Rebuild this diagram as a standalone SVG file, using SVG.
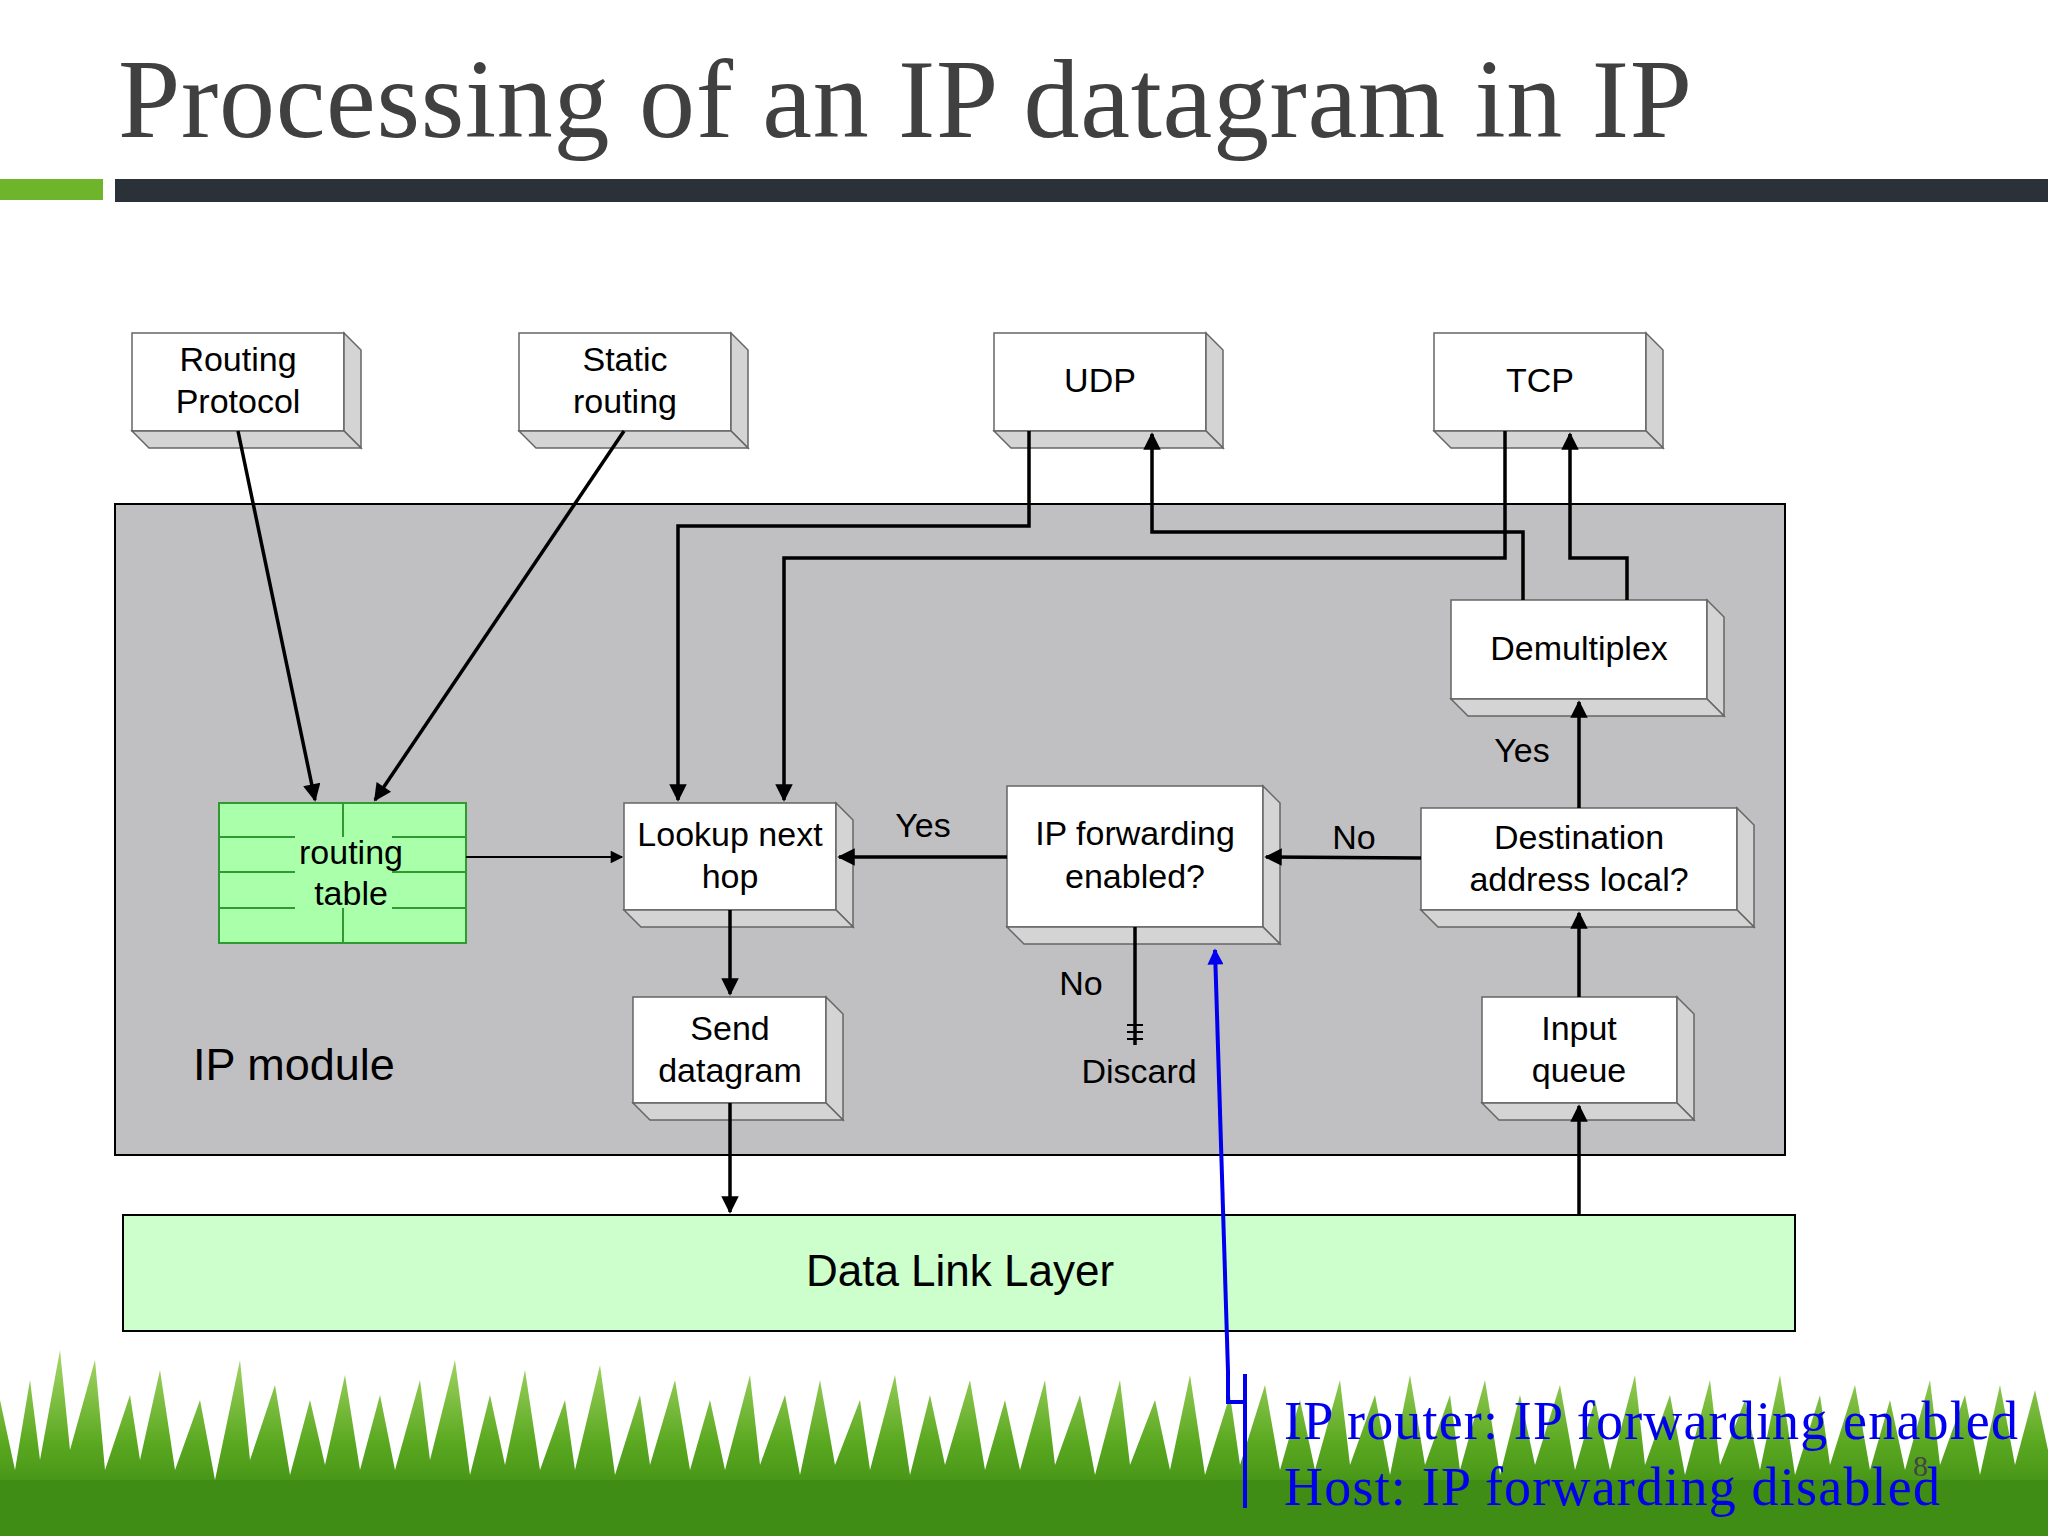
<svg xmlns="http://www.w3.org/2000/svg" width="2048" height="1536" viewBox="0 0 2048 1536">
<defs>
<style>
.f{fill:#fff;stroke:#666;stroke-width:1.5}
.s{fill:#d4d4d4;stroke:#666;stroke-width:1.5}
.t{font-family:"Liberation Sans",Arial,sans-serif;font-size:34px;fill:#000;text-anchor:middle}
.c{fill:none;stroke:#000;stroke-width:3.5}
.ct{fill:none;stroke:#000;stroke-width:1.8}
.rt{stroke:#2f9a2f;stroke-width:2}
</style>
<marker id="a" viewBox="0 0 10 10" refX="9" refY="5" markerWidth="6" markerHeight="5" orient="auto" markerUnits="strokeWidth"><path d="M0,0L10,5L0,10z" fill="#000"/></marker>
<marker id="at" viewBox="0 0 10 10" refX="9" refY="5" markerWidth="9" markerHeight="7" orient="auto" markerUnits="strokeWidth"><path d="M0,0L10,5L0,10z" fill="#000"/></marker>
<marker id="ab" viewBox="0 0 10 10" refX="9" refY="5" markerWidth="5" markerHeight="4" orient="auto" markerUnits="strokeWidth"><path d="M0,0L10,5L0,10z" fill="#0000ee"/></marker>
<linearGradient id="g" x1="0" y1="0" x2="0" y2="1"><stop offset="0" stop-color="#a8d86a"/><stop offset="0.5" stop-color="#5aa820"/><stop offset="1" stop-color="#2f7d0c"/></linearGradient>
</defs>
<rect width="2048" height="1536" fill="#fff"/>
<text x="118" y="137" font-family="Liberation Serif,serif" font-size="112" fill="#404040" textLength="1574">Processing of an IP datagram in IP</text>
<rect x="0" y="179" width="103" height="21" fill="#6fb52c"/>
<rect x="115" y="179" width="1933" height="23" fill="#2b3138"/>

<path fill="url(#g)" d="M0,1536 L0,1400 L15,1470 L30,1380 L40,1460 L60,1350 L70,1450 L95,1360 L105,1470 L130,1395 L140,1460 L160,1370 L175,1470 L200,1400 L215,1480 L240,1360 L250,1460 L275,1385 L290,1475 L310,1400 L325,1465 L345,1375 L360,1470 L380,1395 L395,1470 L420,1380 L430,1460 L455,1360 L470,1475 L490,1395 L505,1465 L525,1370 L540,1470 L565,1400 L575,1470 L600,1365 L615,1475 L640,1395 L650,1465 L675,1380 L690,1470 L710,1400 L725,1470 L750,1375 L760,1465 L785,1395 L800,1475 L820,1380 L835,1465 L860,1400 L870,1470 L895,1375 L910,1475 L930,1395 L945,1465 L970,1380 L985,1470 L1005,1400 L1020,1470 L1045,1380 L1055,1465 L1080,1395 L1095,1475 L1120,1380 L1130,1465 L1155,1400 L1170,1470 L1190,1375 L1205,1475 L1230,1395 L1240,1465 L1265,1385 L1280,1470 L1300,1400 L1315,1470 L1340,1380 L1350,1465 L1375,1395 L1390,1475 L1410,1375 L1425,1465 L1450,1395 L1460,1470 L1485,1380 L1500,1475 L1520,1395 L1535,1465 L1560,1385 L1575,1470 L1595,1400 L1610,1470 L1635,1375 L1645,1465 L1670,1395 L1685,1475 L1710,1380 L1720,1465 L1745,1400 L1760,1470 L1780,1375 L1795,1475 L1820,1395 L1830,1465 L1855,1385 L1870,1470 L1890,1400 L1905,1470 L1930,1380 L1940,1465 L1965,1395 L1980,1475 L2000,1385 L2015,1465 L2035,1390 L2048,1450 L2048,1536 Z"/>
<rect x="0" y="1480" width="2048" height="56" fill="#3f8d14"/>

<g id="ipmodule">
<rect x="115" y="504" width="1670" height="651" fill="#c0bfc1" stroke="#000" stroke-width="2"/>
<text class="t" x="193" y="1080" style="text-anchor:start;font-size:45px">IP module</text>
</g>
<g id="datalink">
<rect x="123" y="1215" width="1672" height="116" fill="#ccffcc" stroke="#000" stroke-width="2"/>
<text class="t" x="960" y="1286" style="font-size:44px">Data Link Layer</text>
</g>

<g id="routingprotocol"><rect class="f" x="132" y="333" width="212" height="98"/><polygon class="s" points="344,333 361,350 361,448 344,431"/><polygon class="s" points="132,431 344,431 361,448 149,448"/><text class="t" x="238" y="371">Routing</text><text class="t" x="238" y="413">Protocol</text></g>
<g id="staticrouting"><rect class="f" x="519" y="333" width="212" height="98"/><polygon class="s" points="731,333 748,350 748,448 731,431"/><polygon class="s" points="519,431 731,431 748,448 536,448"/><text class="t" x="625" y="371">Static</text><text class="t" x="625" y="413">routing</text></g>
<g id="udp"><rect class="f" x="994" y="333" width="212" height="98"/><polygon class="s" points="1206,333 1223,350 1223,448 1206,431"/><polygon class="s" points="994,431 1206,431 1223,448 1011,448"/><text class="t" x="1100" y="392">UDP</text></g>
<g id="tcp"><rect class="f" x="1434" y="333" width="212" height="98"/><polygon class="s" points="1646,333 1663,350 1663,448 1646,431"/><polygon class="s" points="1434,431 1646,431 1663,448 1451,448"/><text class="t" x="1540" y="392">TCP</text></g>
<g id="demultiplex"><rect class="f" x="1451" y="600" width="256" height="99"/><polygon class="s" points="1707,600 1724,617 1724,716 1707,699"/><polygon class="s" points="1451,699 1707,699 1724,716 1468,716"/><text class="t" x="1579" y="660">Demultiplex</text></g>
<g id="lookup"><rect class="f" x="624" y="803" width="212" height="107"/><polygon class="s" points="836,803 853,820 853,927 836,910"/><polygon class="s" points="624,910 836,910 853,927 641,927"/><text class="t" x="730" y="846">Lookup next</text><text class="t" x="730" y="888">hop</text></g>
<g id="ipforwarding"><rect class="f" x="1007" y="786" width="256" height="141"/><polygon class="s" points="1263,786 1280,803 1280,944 1263,927"/><polygon class="s" points="1007,927 1263,927 1280,944 1024,944"/><text class="t" x="1135" y="845">IP forwarding</text><text class="t" x="1135" y="888">enabled?</text></g>
<g id="destination"><rect class="f" x="1421" y="808" width="316" height="102"/><polygon class="s" points="1737,808 1754,825 1754,927 1737,910"/><polygon class="s" points="1421,910 1737,910 1754,927 1438,927"/><text class="t" x="1579" y="849">Destination</text><text class="t" x="1579" y="891">address local?</text></g>
<g id="send"><rect class="f" x="633" y="997" width="193" height="106"/><polygon class="s" points="826,997 843,1014 843,1120 826,1103"/><polygon class="s" points="633,1103 826,1103 843,1120 650,1120"/><text class="t" x="730" y="1040">Send</text><text class="t" x="730" y="1082">datagram</text></g>
<g id="input"><rect class="f" x="1482" y="997" width="195" height="106"/><polygon class="s" points="1677,997 1694,1014 1694,1120 1677,1103"/><polygon class="s" points="1482,1103 1677,1103 1694,1120 1499,1120"/><text class="t" x="1579" y="1040">Input</text><text class="t" x="1579" y="1082">queue</text></g>
<g id="routingtable">
<rect x="219" y="803" width="247" height="140" fill="#aaffaa" stroke="#2f9a2f" stroke-width="2"/>
<path class="rt" d="M219,837H295M392,837H466M219,872H295M392,872H466M219,908H295M392,908H466M343,803V837M343,908V943"/>
<text class="t" x="351" y="864">routing</text><text class="t" x="351" y="905">table</text>
</g>
<g id="discard"><text class="t" x="1139" y="1083">Discard</text></g>

<g id="connectors">
<path class="c" d="M238,431L315,800" marker-end="url(#a)"/>
<path class="c" d="M624,431L375,800" marker-end="url(#a)"/>
<path class="c" d="M1029,431V526H678V800" marker-end="url(#a)"/>
<path class="c" d="M1505,431V558H784V800" marker-end="url(#a)"/>
<path class="c" d="M1523,600V532H1152V434" marker-end="url(#a)"/>
<path class="c" d="M1627,600V558H1570V434" marker-end="url(#a)"/>
<path class="c" d="M1579,808V702" marker-end="url(#a)"/>
<path class="c" d="M1421,858L1266,857" marker-end="url(#a)"/>
<path class="c" d="M1007,857H839" marker-end="url(#a)"/>
<path class="ct" d="M466,857H622" marker-end="url(#at)"/>
<path class="c" d="M730,910V994" marker-end="url(#a)"/>
<path class="c" d="M1135,927V1045"/>
<path class="ct" d="M1127,1025H1143M1127,1032H1143M1127,1039H1143"/>
<path class="c" d="M730,1103V1212" marker-end="url(#a)"/>
<path class="c" d="M1579,1215V1106" marker-end="url(#a)"/>
<path class="c" d="M1579,997V913" marker-end="url(#a)"/>
<path fill="none" stroke="#0000ee" stroke-width="4" d="M1228,1371L1215,950" marker-end="url(#ab)"/>
<path fill="none" stroke="#0000ee" stroke-width="4" d="M1228,1371V1402H1245M1245,1374V1508"/>
<text class="t" x="1522" y="762">Yes</text>
<text class="t" x="1354" y="849">No</text>
<text class="t" x="923" y="837">Yes</text>
<text class="t" x="1081" y="995">No</text>
</g>
<text x="1284" y="1439" font-family="Liberation Serif,serif" font-size="54" fill="#0000ee" textLength="734">IP router: IP forwarding enabled</text>
<text x="1284" y="1505" font-family="Liberation Serif,serif" font-size="54" fill="#0000ee" textLength="656">Host: IP forwarding disabled</text>
<text x="1913" y="1476" font-family="Liberation Serif,serif" font-size="30" fill="#444">8</text>
</svg>
